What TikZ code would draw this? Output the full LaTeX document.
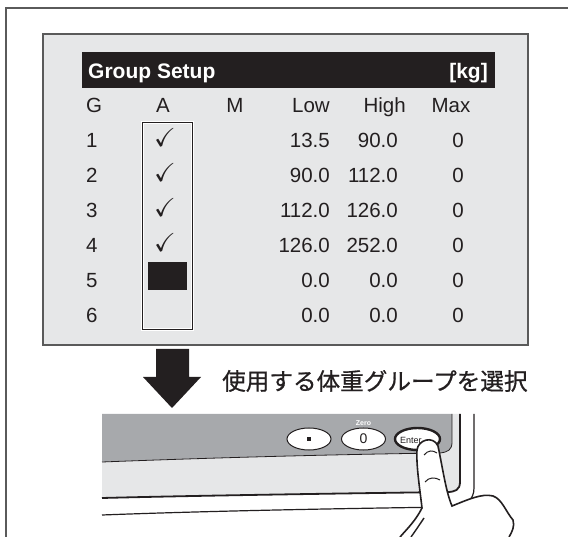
\documentclass[tikz,border=0pt]{standalone}
\usepackage{fontspec}
\setmainfont{Liberation Sans}
\newfontfamily\jpfont[FakeBold=0.7]{Noto Sans CJK JP}
\usepackage{amssymb}
\usetikzlibrary{positioning, shapes.geometric}

\definecolor{ink}{HTML}{231F20}
\definecolor{panel}{HTML}{E6E7E8}
\definecolor{frameline}{HTML}{5A5A5A}
\definecolor{bezel}{HTML}{A7A9AC}

\begin{document}
\begin{tikzpicture}[x=1pt, y=-1pt,
		cell/.style={inner sep=0pt, text=ink, font=\fontsize{20.5}{24}\selectfont},
		tick/.style={inner sep=0pt, text=ink, scale=2.6},
		key/.style={ellipse, draw=ink, fill=white, line width=1pt, inner sep=0pt, minimum width=44pt, minimum height=22pt, text=ink}]
		
		\useasboundingbox (0,0) rectangle (568,537);
		\draw[frameline, line width=1.4pt] (6,537) -- (6,8) -- (568,8);
		
		% display panel
		\node[draw=frameline, fill=panel, line width=1.6pt, minimum width=485pt, minimum height=311pt, anchor=north west] (panel) at (42,33) {};
		\node[fill=ink, inner sep=0pt, minimum width=413pt, minimum height=36pt, anchor=north west] (titlebar) at (82,52) {};
		\node[cell, text=white, font=\bfseries\fontsize{21}{24}\selectfont, anchor=base west] (title) at (88,79) {Group Setup};
		\node[cell, text=white, font=\bfseries\fontsize{21}{24}\selectfont, anchor=base east] (unit) at (488,79) {[kg]};
		
		% column heads
		\node[cell, anchor=base west] (hdrG) at (86,113) {G};
		\node[cell, anchor=base] (hdrA) at (163,113) {A};
		\node[cell, anchor=base] (hdrM) at (235,113) {M};
		\node[cell, anchor=base east] (hdrLow) at (330,113) {Low};
		\node[cell, anchor=base east] (hdrHigh) at (406,113) {High};
		\node[cell, anchor=base] (hdrMax) at (451,113) {Max};
		
		% group rows
		\foreach \n/\lo/\hi [count=\k from 0] in {1/13.5/90.0, 2/90.0/112.0, 3/112.0/126.0, 4/126.0/252.0, 5/0.0/0.0, 6/0.0/0.0} {
			\node[cell, anchor=base west] (g\n) at (86,148+35*\k) {\n};
			\node[cell, anchor=base east] (lo\n) at (330,148+35*\k) {\lo};
			\node[cell, anchor=base east] (hi\n) at (398,148+35*\k) {\hi};
			\node[cell, anchor=base] (mx\n) at (458,148+35*\k) {0};
		}
		
		% active column with cursor
		\node[draw=ink, line width=1.2pt, preaction={draw=white, line width=3.6pt}, inner sep=0pt, minimum width=50pt, minimum height=207pt, anchor=north west] (acol) at (142,122) {};
		\foreach \n in {1,...,4}
			\node[tick] (chk\n) at (165,103+35*\n) {$\checkmark$};
		\node[fill=ink, inner sep=0pt, minimum width=39pt, minimum height=28pt, anchor=north west] (cursor) at (148,262) {};
		
		% step arrow and caption
		\fill[ink] (156,349) -- (189,349) -- (189,377) -- (201,377) -- (172,408) -- (143,377) -- (156,377) -- cycle;
		\node[inner sep=0pt, anchor=west, text=ink, font=\jpfont\fontsize{23.6}{28}\selectfont] (caption) at (222,381) {使用する体重グループを選択};
		
		% indicator front
		\fill[bezel] (102,414) -- (452,414) -- (452,442) .. controls (452,450) and (448,452) .. (440,453) .. controls (300,455) and (180,459) .. (102,462) -- cycle;
		\fill[panel] (102,462) .. controls (180,459) and (300,455) .. (440,453) .. controls (448,452) and (452,450) .. (452,442) -- (452,414) -- (460,414) -- (460,482) .. controls (460,490) and (455,492) .. (447,492) .. controls (300,494) and (180,496) .. (102,498) -- cycle;
		\draw[ink, line width=0.8pt] (102,462) .. controls (180,459) and (300,455) .. (440,453) .. controls (448,452) and (452,450) .. (452,442) -- (452,414);
		\draw[ink, line width=1.8pt] (460,414) -- (460,482) .. controls (460,490) and (455,492) .. (447,492) .. controls (300,494) and (180,496) .. (102,498);
		\draw[ink, line width=1.2pt] (474,414) -- (474,488) .. controls (474,500) and (466,506) .. (450,507) .. controls (300,509) and (180,512) .. (102,515);
		
		% keys
		\node[key] (dotkey) at (309,439) {};
		\node[fill=ink, inner sep=0pt, minimum size=3.2pt] (dot) at (dotkey.center) {};
		\node[key, font=\fontsize{14}{16}\selectfont] (zerokey) at (363.5,439) {0};
		\node[above=1.5pt of zerokey, inner sep=0pt, text=white, font=\bfseries\fontsize{7}{8}\selectfont] (zerolbl) {Zero};
		\node[key, line width=2.4pt, minimum width=45pt] (enterkey) at (417.5,439) {};
		\node[inner sep=0pt, anchor=west, text=ink, font=\fontsize{9}{10}\selectfont] (entertxt) at (400,440) {Enter};
		
		% pressing finger
		\filldraw[fill=white, draw=ink, line width=1.6pt] (400,537) .. controls (408,528) and (416,520) .. (422,508) .. controls (420,490) and (416,465) .. (417,450) .. controls (418,440) and (433,435) .. (438,446) .. controls (443,470) and (446,492) .. (452,506) .. controls (467,500) and (482,493) .. (493,496) .. controls (502,499) and (506,512) .. (513,520) .. controls (515,526) and (512,532) .. (509,537);
		\draw[ink, line width=1pt] (424,455) .. controls (428,450) and (433,450) .. (437,453);
		\draw[ink, line width=1pt] (425,482) .. controls (429,477) and (435,477) .. (440,480);
		\draw[ink, line width=1.4pt] (411,537) .. controls (416,530) and (420,524) .. (424,518);
	\end{tikzpicture}
\end{document}
